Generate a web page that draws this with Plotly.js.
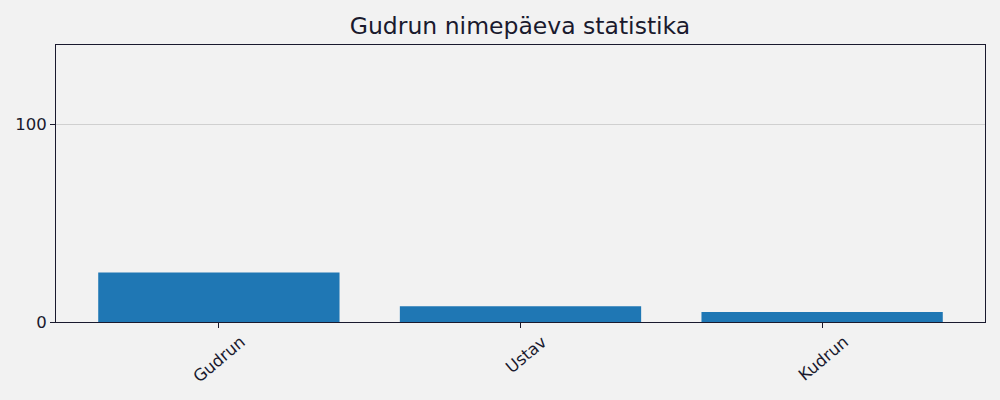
<!DOCTYPE html>
<html>
<head>
<meta charset="utf-8">
<script src="https://cdn.plot.ly/plotly-3.0.1.min.js"></script>
<style>
  html, body { margin: 0; padding: 0; background: #f2f2f2; }
  #chart { width: 1000px; height: 400px; }
</style>
</head>
<body>
<div id="chart"></div>
<script>
'use strict';

/* Chart data */
var names  = ['Gudrun', 'Ustav', 'Kudrun'];
var counts = [25, 8, 5];
var yTicks = [0, 100];

var ink = '#1a1a2e';

Plotly.newPlot('chart', [{
  x: names, y: counts,
  type: 'bar', width: 0.8,
  marker: { color: '#1f77b4' },
  hoverinfo: 'x+y'
}], {
  width: 1000, height: 400,
  font: { family: 'DejaVu Sans, sans-serif', color: ink },
  paper_bgcolor: '#f2f2f2', plot_bgcolor: '#f2f2f2',
  margin: { t: 45, r: 15, b: 78, l: 56 },
  title: {
    text: 'Gudrun nimepäeva statistika',
    font: { size: 23.5, color: ink },
    x: 0.52, xanchor: 'center', y: 0.935, yanchor: 'middle'
  },
  xaxis: {
    range: [-0.54, 2.54],
    showgrid: false, zeroline: false,
    showline: true, mirror: true, linecolor: ink, linewidth: 1,
    ticks: 'outside', ticklen: 5, tickcolor: ink,
    tickangle: -40, ticklabelshift: 22, ticklabelstandoff: -2,
    tickfont: { size: 16.5, color: ink }
  },
  yaxis: {
    range: [0, 140],
    tickvals: yTicks,
    showgrid: true, gridcolor: '#d0d0d0', gridwidth: 1,
    zeroline: false,
    showline: true, mirror: true, linecolor: ink, linewidth: 1,
    ticks: 'outside', ticklen: 5, tickcolor: ink,
    tickfont: { size: 16.5, color: ink }
  },
  showlegend: false
}, { displayModeBar: false });
</script>
</body>
</html>
